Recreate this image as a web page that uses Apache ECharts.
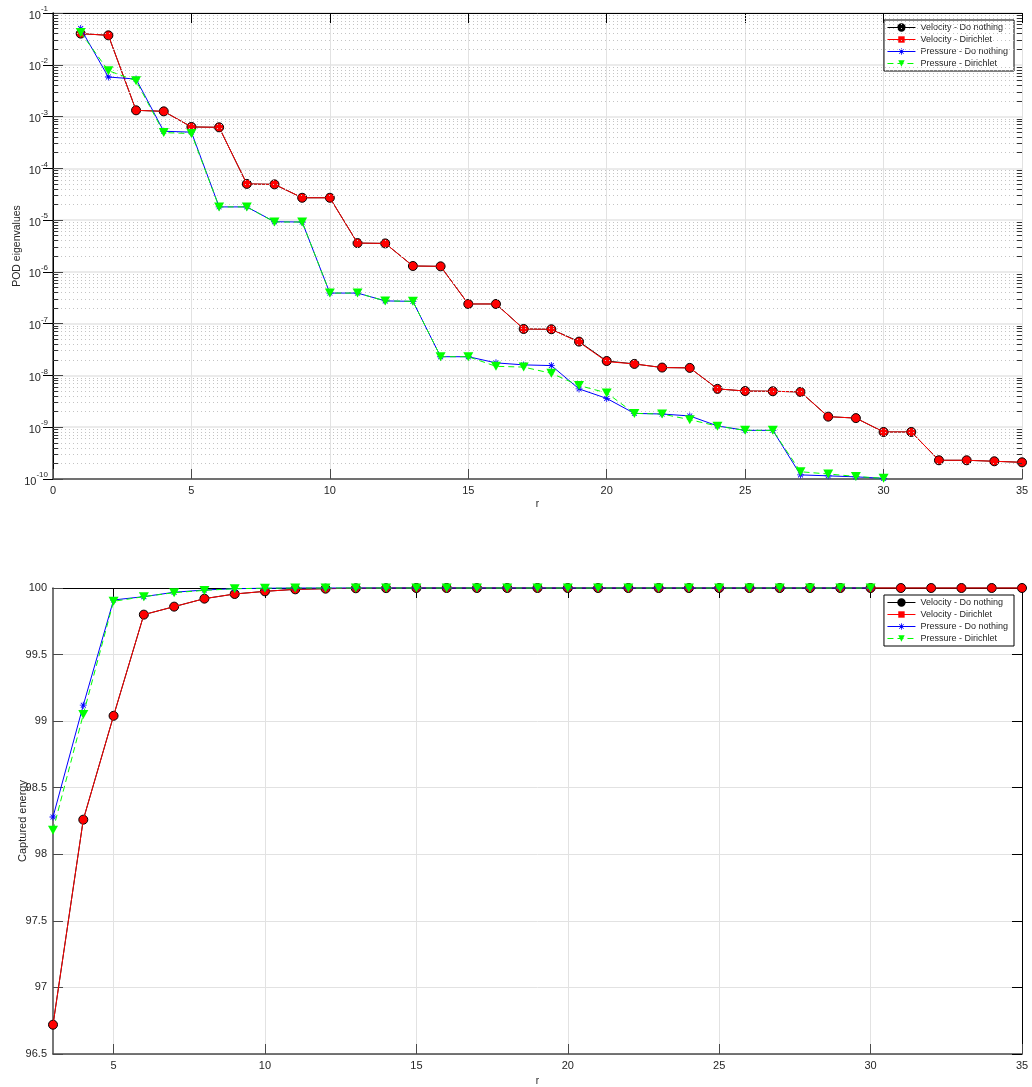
<!DOCTYPE html>
<html>
<head>
<meta charset="utf-8">
<script src="https://cdn.jsdelivr.net/npm/echarts@6/dist/echarts.min.js"></script>
<style>
html,body{margin:0;padding:0;background:#fff;}
#c{width:1032px;height:1087px;}
</style>
</head>
<body>
<div id="c"></div>
<script>
// ---------- DATA ----------
const seriesNames = ['Velocity - Do nothing', 'Velocity - Dirichlet', 'Pressure - Do nothing', 'Pressure - Dirichlet'];

// Top: POD eigenvalues, r = 1..35 (velocity), r = 1..30 (pressure)
const rVel = [1,2,3,4,5,6,7,8,9,10,11,12,13,14,15,16,17,18,19,20,21,22,23,24,25,26,27,28,29,30,31,32,33,34,35];
const rPre = [1,2,3,4,5,6,7,8,9,10,11,12,13,14,15,16,17,18,19,20,21,22,23,24,25,26,27,28,29,30];

const eigVelDN = [0.040,0.037,1.32e-3,1.26e-3,6.3e-4,6.2e-4,5.0e-5,4.9e-5,2.7e-5,2.7e-5,3.6e-6,3.55e-6,1.3e-6,1.28e-6,2.4e-7,2.4e-7,7.9e-8,7.8e-8,4.5e-8,1.9e-8,1.67e-8,1.42e-8,1.4e-8,5.5e-9,5.0e-9,4.95e-9,4.8e-9,1.6e-9,1.5e-9,8.1e-10,8.1e-10,2.3e-10,2.3e-10,2.2e-10,2.1e-10];
const eigVelD  = [0.040,0.037,1.32e-3,1.26e-3,6.3e-4,6.2e-4,5.0e-5,4.9e-5,2.7e-5,2.7e-5,3.6e-6,3.55e-6,1.3e-6,1.28e-6,2.4e-7,2.4e-7,7.9e-8,7.8e-8,4.4e-8,1.85e-8,1.67e-8,1.42e-8,1.4e-8,5.5e-9,5.0e-9,4.95e-9,4.8e-9,1.6e-9,1.5e-9,8.1e-10,8.1e-10,2.3e-10,2.3e-10,2.2e-10,2.1e-10];
const eigPreDN = [0.050,5.8e-3,5.3e-3,5.2e-4,5.0e-4,1.8e-5,1.8e-5,9.3e-6,9.2e-6,3.9e-7,3.9e-7,2.75e-7,2.7e-7,2.3e-8,2.3e-8,1.75e-8,1.6e-8,1.55e-8,5.5e-9,3.6e-9,1.85e-9,1.8e-9,1.65e-9,1.06e-9,8.7e-10,8.7e-10,1.2e-10,1.15e-10,1.1e-10,1.03e-10];
const eigPreD  = [0.042,7.7e-3,4.9e-3,4.9e-4,4.7e-4,1.8e-5,1.8e-5,9.2e-6,9.2e-6,3.9e-7,3.9e-7,2.75e-7,2.7e-7,2.3e-8,2.3e-8,1.5e-8,1.45e-8,1.1e-8,6.4e-9,4.6e-9,1.85e-9,1.8e-9,1.4e-9,1.05e-9,8.7e-10,8.7e-10,1.38e-10,1.25e-10,1.12e-10,1.03e-10];

// Bottom: captured energy, r = 3..35 (velocity), r = 3..30 (pressure)
const rVelE = [3,4,5,6,7,8,9,10,11,12,13,14,15,16,17,18,19,20,21,22,23,24,25,26,27,28,29,30,31,32,33,34,35];
const rPreE = [3,4,5,6,7,8,9,10,11,12,13,14,15,16,17,18,19,20,21,22,23,24,25,26,27,28,29,30];
const enVelDN = [96.72,98.26,99.04,99.80,99.86,99.92,99.955,99.975,99.99,99.995,99.998,99.999,100,100,100,100,100,100,100,100,100,100,100,100,100,100,100,100,100,100,100,100,100];
const enVelD  = [96.72,98.26,99.04,99.80,99.86,99.92,99.955,99.975,99.99,99.995,99.998,99.999,100,100,100,100,100,100,100,100,100,100,100,100,100,100,100,100,100,100,100,100,100];
const enPreDN = [98.28,99.12,99.91,99.935,99.968,99.985,99.995,99.998,100,100,100,100,100,100,100,100,100,100,100,100,100,100,100,100,100,100,100,100];
const enPreD  = [98.18,99.05,99.90,99.935,99.965,99.982,99.995,99.998,100,100,100,100,100,100,100,100,100,100,100,100,100,100,100,100,100,100,100,100];

// Tick labels
const topXTicks = [0,5,10,15,20,25,30,35];
const botXTicks = [5,10,15,20,25,30,35];
const decadeExps = [-10,-9,-8,-7,-6,-5,-4,-3,-2,-1];

// ---------- CHART ----------
const FONT = '"Liberation Sans", Arial, Helvetica, sans-serif';
const AX = '#4a4a4a';
const TXT = '#262626';
const asterisk = 'path://M-0.6,-5H0.6V5H-0.6Z M-5,-0.6H5V0.6H-5Z M-3.1,-3.9L3.9,3.1L3.1,3.9L-3.9,-3.1Z M3.1,-3.9L3.9,-3.1L-3.1,3.9L-3.9,3.1Z';

const pairs = (xs, ys) => xs.map((x, i) => [x, ys[i]]);

// minor log gridlines (2..9 x 10^n) and minor ticks
const minorVals = [];
for (let e = -10; e < -1; e++) for (let k = 2; k <= 9; k++) minorVals.push(k * Math.pow(10, e));
const minorGrid = minorVals.map(v => [{coord: [0, v]}, {coord: [35, v]}]);
const minorTicks = [];
minorVals.forEach(v => {
  minorTicks.push([{coord: [0, v]}, {coord: [0.19, v]}]);
  minorTicks.push([{coord: [34.81, v]}, {coord: [35, v]}]);
});

function styles(idx) {
  const s = [
    {lineStyle: {color: '#000', width: 1}, symbol: 'circle', symbolSize: 9, itemStyle: {color: '#ff0000', borderColor: '#000', borderWidth: 1}},
    {lineStyle: {color: '#ff0000', width: 1}, symbol: 'rect', symbolSize: 4, itemStyle: {color: '#ff0000', borderWidth: 0}},
    {lineStyle: {color: '#0000ff', width: 1}, symbol: asterisk, symbolSize: 7, itemStyle: {color: '#0000ff', borderWidth: 0}},
    {lineStyle: {color: '#00ff00', width: 1, type: [6, 4]}, symbol: 'triangle', symbolRotate: 180, symbolSize: [10, 9], itemStyle: {color: '#00ff00', borderWidth: 0}}
  ];
  return s[idx];
}

function makeSeries(name, idx, data, xi, yi) {
  return Object.assign({
    name: name, type: 'line', data: data, xAxisIndex: xi, yAxisIndex: yi,
    showAllSymbol: true, clip: false, animation: false, z: 3 + idx,
    emphasis: {disabled: true}
  }, styles(idx));
}

const legendData = [
  {name: seriesNames[0], itemStyle: {color: '#000', borderColor: '#000'}, lineStyle: {width: 1}},
  {name: seriesNames[1], lineStyle: {width: 1}},
  {name: seriesNames[2], lineStyle: {width: 1}},
  {name: seriesNames[3], lineStyle: {width: 1}}
];
const legendCommon = {
  orient: 'vertical', right: 18, data: legendData,
  itemWidth: 28, itemHeight: 8, itemGap: 3,
  padding: [3, 6, 3, 3],
  backgroundColor: '#fff', borderColor: '#000', borderWidth: 1,
  textStyle: {fontFamily: FONT, fontSize: 9, color: TXT},
  selectedMode: false
};

const chart = echarts.init(document.getElementById('c'), null, {renderer: 'canvas'});
const option = {
  animation: false,
  backgroundColor: '#fff',
  textStyle: {fontFamily: FONT},
  grid: [
    {left: 53, right: 10, top: 13, height: 466},
    {left: 53, right: 10, top: 588, height: 468}
  ],
  legend: [
    Object.assign({top: 20}, legendCommon),
    Object.assign({top: 595}, legendCommon)
  ],
  xAxis: [
    {gridIndex: 0, type: 'value', min: 0, max: 35, interval: 5,
     name: 'r', nameLocation: 'middle', nameGap: 20, nameTextStyle: {fontSize: 10, color: TXT, fontFamily: FONT},
     axisLine: {lineStyle: {color: AX, width: 1.5}},
     axisTick: {inside: true, length: 10, lineStyle: {color: AX}},
     axisLabel: {fontSize: 11, color: TXT, margin: 6, fontFamily: FONT},
     splitLine: {show: true, lineStyle: {color: '#e2e2e2', width: 1}}},
    {gridIndex: 0, type: 'value', min: 0, max: 35, interval: 5, position: 'top',
     axisLine: {lineStyle: {color: '#000', width: 1}},
     axisTick: {inside: true, length: 10, lineStyle: {color: '#000'}},
     axisLabel: {show: false}, splitLine: {show: false}},
    {gridIndex: 1, type: 'value', min: 3, max: 35,
     name: 'r', nameLocation: 'middle', nameGap: 22, nameTextStyle: {fontSize: 10, color: TXT, fontFamily: FONT},
     axisLine: {lineStyle: {color: AX, width: 1.5}},
     axisTick: {inside: true, length: 10, lineStyle: {color: AX}, customValues: botXTicks},
     axisLabel: {fontSize: 11, color: TXT, margin: 6, fontFamily: FONT, customValues: botXTicks},
     splitLine: {show: true, lineStyle: {color: '#e2e2e2', width: 1}}},
    {gridIndex: 1, type: 'value', min: 3, max: 35, position: 'top',
     axisLine: {lineStyle: {color: '#000', width: 1}},
     axisTick: {inside: true, length: 10, lineStyle: {color: '#000'}, customValues: botXTicks},
     axisLabel: {show: false, customValues: botXTicks}, splitLine: {show: false}}
  ],
  yAxis: [
    {gridIndex: 0, type: 'log', logBase: 10, min: 1e-10, max: 1e-1,
     name: 'POD eigenvalues', nameLocation: 'middle', nameGap: 30, nameMoveOverlap: false,
     nameTextStyle: {fontSize: 10.5, color: TXT, fontFamily: FONT},
     axisLine: {lineStyle: {color: AX, width: 1.5}},
     axisTick: {inside: true, length: 10, lineStyle: {color: AX}},
     axisLabel: {margin: 5, fontFamily: FONT, color: TXT,
       formatter: function (v) { const e = Math.round(Math.log10(v)); return '{b|10}{s|' + e + '}'; },
       rich: {b: {fontSize: 11, color: TXT, fontFamily: FONT, verticalAlign: 'bottom', lineHeight: 16},
              s: {fontSize: 8, color: TXT, fontFamily: FONT, verticalAlign: 'top', lineHeight: 16}}},
     splitLine: {show: true, lineStyle: {color: '#e4e4e4', width: 1.5}}},
    {gridIndex: 0, type: 'log', logBase: 10, min: 1e-10, max: 1e-1, position: 'right',
     axisLine: {lineStyle: {color: '#000', width: 1}},
     axisTick: {inside: true, length: 10, lineStyle: {color: '#000'}},
     axisLabel: {show: false}, splitLine: {show: false}},
    {gridIndex: 1, type: 'value', min: 96.5, max: 100, interval: 0.5,
     name: 'Captured energy', nameLocation: 'middle', nameGap: 25, nameMoveOverlap: false,
     nameTextStyle: {fontSize: 11, color: TXT, fontFamily: FONT},
     axisLine: {lineStyle: {color: AX, width: 1.5}},
     axisTick: {inside: true, length: 10, lineStyle: {color: AX}},
     axisLabel: {fontSize: 11, color: TXT, margin: 6, fontFamily: FONT},
     splitLine: {show: true, lineStyle: {color: '#e2e2e2', width: 1}}},
    {gridIndex: 1, type: 'value', min: 96.5, max: 100, interval: 0.5, position: 'right',
     axisLine: {lineStyle: {color: '#000', width: 1}},
     axisTick: {inside: true, length: 10, lineStyle: {color: '#000'}},
     axisLabel: {show: false}, splitLine: {show: false}}
  ],
  series: [
    {name: '_minorGrid', type: 'line', data: [], xAxisIndex: 0, yAxisIndex: 0, z: 1, silent: true,
     markLine: {silent: true, symbol: 'none', label: {show: false}, animation: false,
       lineStyle: {color: '#c4c4c4', width: 1, type: [1, 3]}, data: minorGrid}},
    {name: '_minorTicks', type: 'line', data: [], xAxisIndex: 0, yAxisIndex: 0, z: 2, silent: true,
     markLine: {silent: true, symbol: 'none', label: {show: false}, animation: false,
       lineStyle: {color: '#333', width: 1, type: 'solid'}, data: minorTicks}},
    makeSeries(seriesNames[0], 0, pairs(rVel, eigVelDN), 0, 0),
    makeSeries(seriesNames[1], 1, pairs(rVel, eigVelD), 0, 0),
    makeSeries(seriesNames[2], 2, pairs(rPre, eigPreDN), 0, 0),
    makeSeries(seriesNames[3], 3, pairs(rPre, eigPreD), 0, 0),
    makeSeries(seriesNames[0], 0, pairs(rVelE, enVelDN), 2, 2),
    makeSeries(seriesNames[1], 1, pairs(rVelE, enVelD), 2, 2),
    makeSeries(seriesNames[2], 2, pairs(rPreE, enPreDN), 2, 2),
    makeSeries(seriesNames[3], 3, pairs(rPreE, enPreD), 2, 2)
  ]
};
chart.setOption(option);
</script>
</body>
</html>
